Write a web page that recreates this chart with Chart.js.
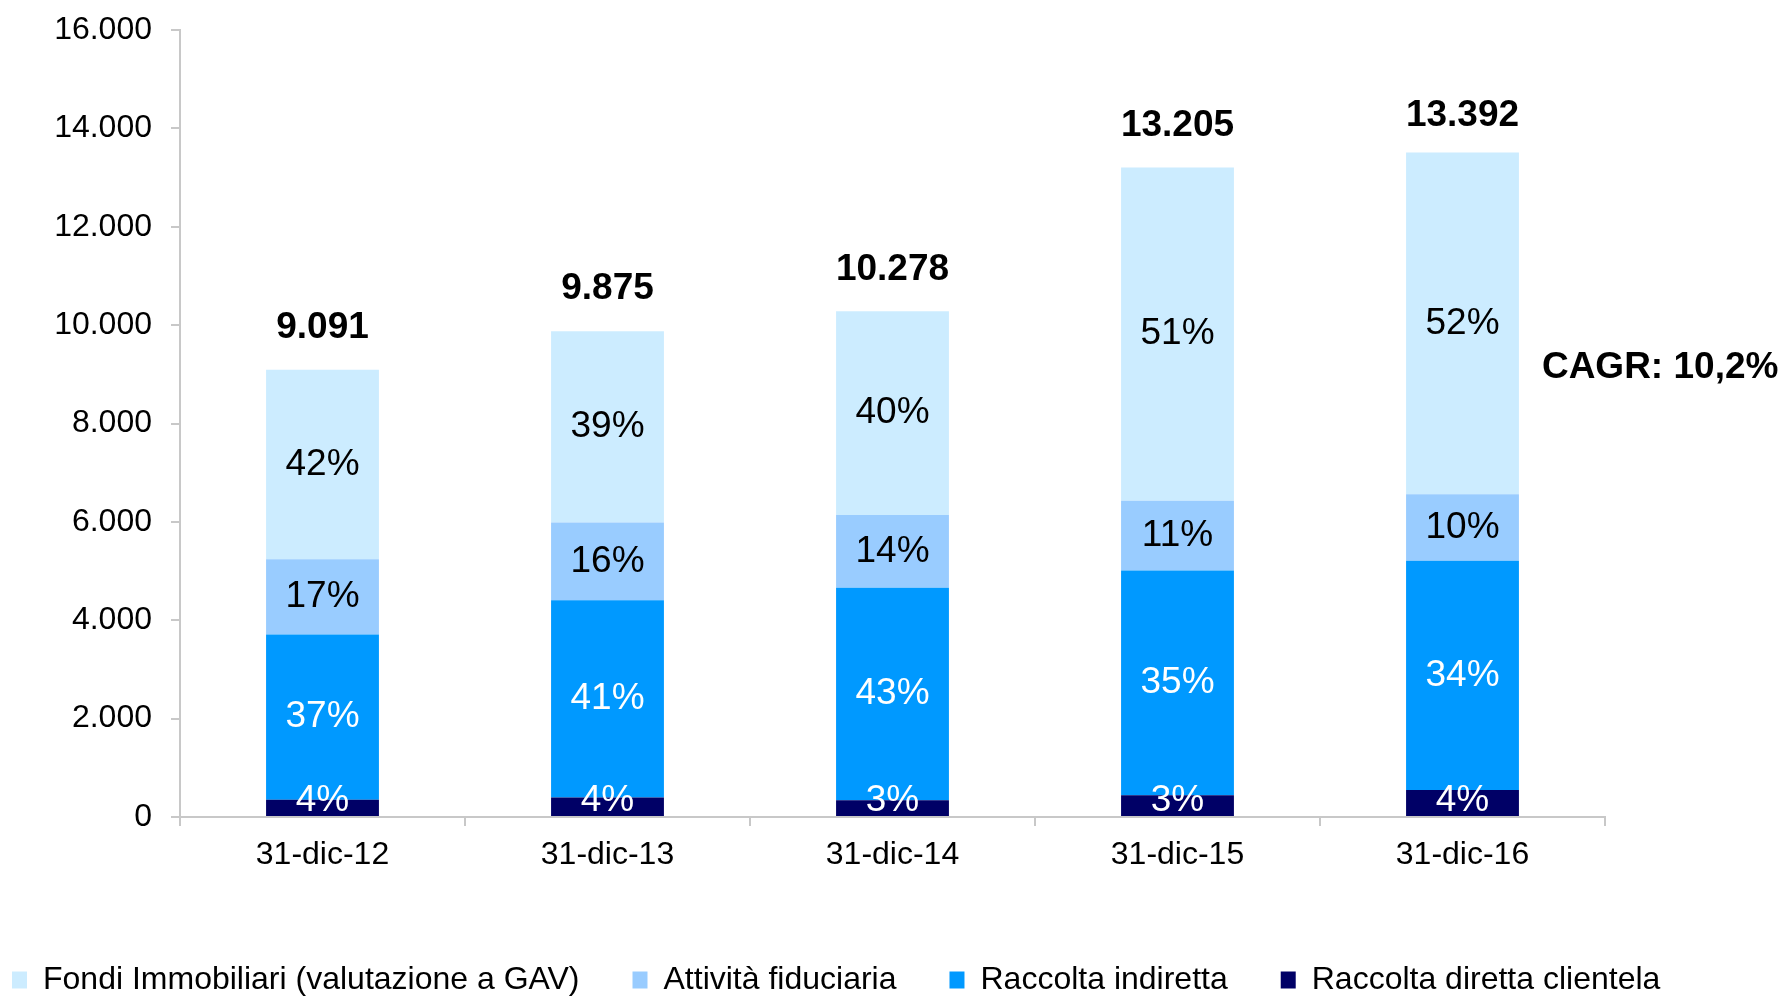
<!DOCTYPE html>
<html>
<head>
<meta charset="utf-8">
<script src="https://cdn.jsdelivr.net/npm/chart.js@4.4.0/dist/chart.umd.min.js"></script>
<style>
    html, body { margin: 0; padding: 0; background: #fff; }
</style>
</head>
<body>
<canvas id="myChart" width="1788" height="996"></canvas>
<script>
var categorie = ['31-dic-12', '31-dic-13', '31-dic-14', '31-dic-15', '31-dic-16'];

// valori (dal basso verso l'alto)
var raccoltaDiretta = [350, 395, 340, 440, 550];
var raccoltaIndiretta = [3360, 4010, 4320, 4570, 4660];
var attivitaFiduciaria = [1530, 1580, 1480, 1420, 1350];
var fondiImmobiliari = [3851, 3890, 4140, 6775, 6950];

var percDiretta = ['4%', '4%', '3%', '3%', '4%'];
var percIndiretta = ['37%', '41%', '43%', '35%', '34%'];
var percFiduciaria = ['17%', '16%', '14%', '11%', '10%'];
var percFondi = ['42%', '39%', '40%', '51%', '52%'];

var totali = [9091, 9875, 10278, 13205, 13392];
var cagr = 'CAGR: 10,2%';

var font = '"Liberation Sans", Arial, sans-serif';
Chart.defaults.font.family = font;

var formatta = function (v) {
    return String(v).replace(/\B(?=(\d{3})+(?!\d))/g, '.');
};

var etichette = {
    id: 'etichette',
    afterDatasetsDraw: function (chart) {
        var ctx = chart.ctx;
        var yScale = chart.scales.y;
        var base = yScale.getPixelForValue(0);
        ctx.save();
        ctx.textAlign = 'center';
        ctx.textBaseline = 'middle';
        ctx.font = '37px ' + font;
        chart.data.datasets.forEach(function (ds, i) {
            var meta = chart.getDatasetMeta(i);
            ctx.fillStyle = ds.coloreTesto;
            meta.data.forEach(function (bar, j) {
                var y = (bar.y + bar.base) / 2;
                if (y > base - 16) y = base - 16;
                ctx.fillText(ds.percentuali[j], bar.x, y);
            });
        });

        ctx.font = 'bold 37px ' + font;
        ctx.fillStyle = '#000';
        var meta0 = chart.getDatasetMeta(0);
        meta0.data.forEach(function (bar, j) {
            ctx.fillText(formatta(totali[j]), bar.x, yScale.getPixelForValue(totali[j]) - 42);
        });

        var ultima = meta0.data[meta0.data.length - 1];
        ctx.textAlign = 'left';
        ctx.fillText(cagr, ultima.x + ultima.width / 2 + 23, yScale.getPixelForValue(9130));
        ctx.restore();
    }
};

// sposta la legenda come nell'originale
var spostaLegenda = {
    id: 'spostaLegenda',
    afterLayout: function (chart) {
        var l = chart.legend;
        l.left -= 41;
        l.top += 10;
        l.bottom += 10;
    }
};

var ctx = document.getElementById('myChart').getContext('2d');
var chart = new Chart(ctx, {
    type: 'bar',
    data: {
        labels: categorie,
        datasets: [{
            label: 'Raccolta diretta clientela',
            data: raccoltaDiretta,
            backgroundColor: '#000066',
            percentuali: percDiretta,
            coloreTesto: '#fff'
        }, {
            label: 'Raccolta indiretta',
            data: raccoltaIndiretta,
            backgroundColor: '#0099FF',
            percentuali: percIndiretta,
            coloreTesto: '#fff'
        }, {
            label: 'Attività fiduciaria',
            data: attivitaFiduciaria,
            backgroundColor: '#99CCFF',
            percentuali: percFiduciaria,
            coloreTesto: '#000'
        }, {
            label: 'Fondi Immobiliari (valutazione a GAV)',
            data: fondiImmobiliari,
            backgroundColor: '#CCECFF',
            percentuali: percFondi,
            coloreTesto: '#000'
        }]
    },
    options: {
        responsive: false,
        animation: { duration: 0 },
        layout: { padding: { top: 30, left: 0, right: 0, bottom: 0 } },
        datasets: {
            bar: { categoryPercentage: 1, barPercentage: 0.396 }
        },
        plugins: {
            tooltip: { enabled: false },
            legend: {
                position: 'bottom',
                align: 'start',
                reverse: true,
                labels: {
                    boxWidth: 15,
                    boxHeight: 17,
                    padding: 53,
                    color: '#000',
                    font: { size: 32 }
                }
            }
        },
        scales: {
            x: {
                stacked: true,
                ticks: { color: '#000', font: { size: 32 }, padding: 10, maxRotation: 0 },
                grid: { offset: true, drawOnChartArea: false, tickLength: 9, color: '#c8c8c8', lineWidth: 2 },
                border: { color: '#c8c8c8', width: 2 },
                afterFit: function (s) { s.height = 84; }
            },
            y: {
                stacked: true,
                min: 0,
                max: 16000,
                ticks: { stepSize: 2000, color: '#000', font: { size: 32 }, padding: 19, callback: formatta },
                grid: { drawOnChartArea: false, tickLength: 9, color: '#c8c8c8', lineWidth: 2 },
                border: { color: '#c8c8c8', width: 2 },
                afterFit: function (s) {
                    s.width = 180;
                    s.paddingTop = 0;
                    s.paddingBottom = 0;
                }
            },
            destra: {
                axis: 'y',
                type: 'linear',
                position: 'right',
                grid: { display: false },
                border: { display: false },
                ticks: { display: false },
                afterFit: function (s) { s.width = 183; }
            }
        }
    },
    plugins: [etichette, spostaLegenda]
});
</script>
</body>
</html>
